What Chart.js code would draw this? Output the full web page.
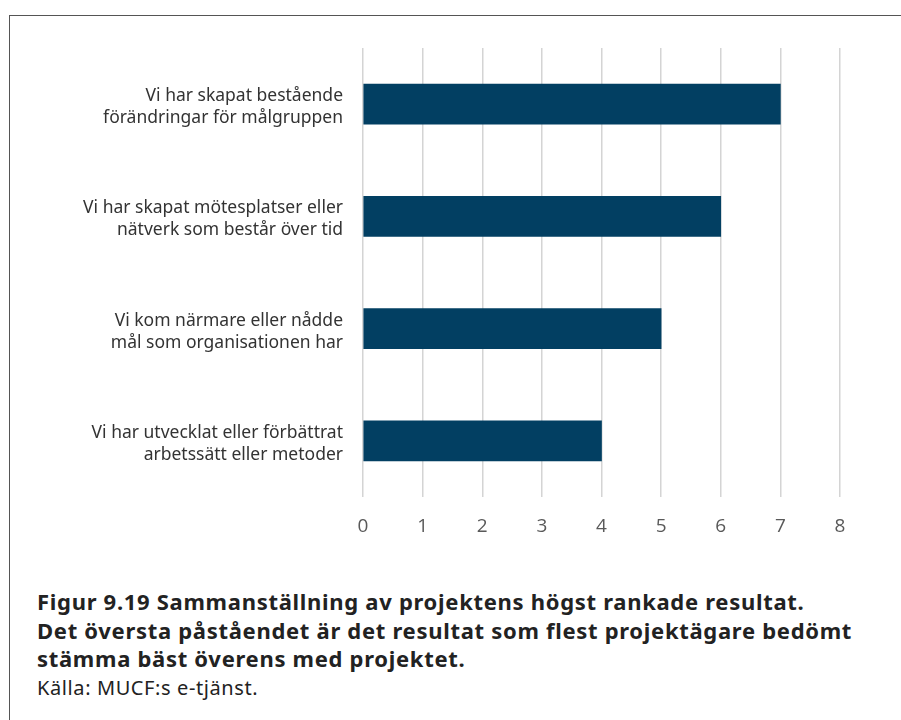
<!DOCTYPE html>
<html lang="sv">
<head>
    <meta charset="UTF-8">
    <title>Figur 9.19</title>
    <script src="https://cdn.jsdelivr.net/npm/chart.js"></script>
    <style>
        body { margin: 0; background: #fff; font-family: "Noto Sans", "Open Sans", sans-serif; }
        #frame { position: absolute; left: 9px; top: 15px; width: 1000px; height: 800px;
                 border-left: 1.5px solid #555; border-top: 1.5px solid #555; }
        #wrap { position: absolute; left: 0; top: 0; width: 901px; height: 570px; }
        #caption { position: absolute; left: 37px; top: 587px; color: #222; }
        #caption h2 { margin: 0; font-size: 22px; line-height: 28.5px; font-weight: 700; letter-spacing: 0.7px; }
        #caption p { margin: 2px 0 0 0; font-size: 20px; line-height: 26px; letter-spacing: 0.6px; }
    </style>
</head>
<body>
    <div id="frame"></div>
    <div id="wrap"><canvas id="chart"></canvas></div>
    <div id="caption">
        <h2>Figur 9.19 Sammanställning av projektens högst rankade resultat.<br>
        Det översta påståendet är det resultat som flest projektägare bedömt<br>
        stämma bäst överens med projektet.</h2>
        <p>Källa: MUCF:s e-tjänst.</p>
    </div>

    <script>
        const labels = [
            ['Vi har skapat bestående', 'förändringar för målgruppen'],
            ['Vi har skapat mötesplatser eller', 'nätverk som består över tid'],
            ['Vi kom närmare eller nådde', 'mål som organisationen har'],
            ['Vi har utvecklat eller förbättrat', 'arbetssätt eller metoder']
        ];
        const values = [7, 6, 5, 4];
        const xMax = 8;

        new Chart(document.getElementById('chart'), {
            type: 'bar',
            data: {
                labels: labels,
                datasets: [{
                    data: values,
                    backgroundColor: '#023f62',
                    barThickness: 40
                }]
            },
            options: {
                indexAxis: 'y',
                responsive: true,
                maintainAspectRatio: false,
                animation: false,
                layout: { padding: { top: 48, right: 61, left: 0, bottom: 0 } },
                plugins: { legend: { display: false }, tooltip: { enabled: false } },
                scales: {
                    x: {
                        min: 0,
                        max: xMax,
                        ticks: { stepSize: 1, color: '#595959', padding: 18,
                                 font: { family: '"Open Sans", "Noto Sans", sans-serif', size: 19 } },
                        grid: { color: '#d4d4d4', lineWidth: 1.5, drawTicks: false },
                        border: { display: false },
                        afterFit: function (scale) { scale.height = 73; }
                    },
                    y: {
                        ticks: { color: '#333', padding: 20, labelOffset: 3,
                                 font: { family: '"Noto Sans", "Open Sans", sans-serif', size: 17.5, lineHeight: 1.25 } },
                        grid: { display: false, drawTicks: false },
                        border: { display: false },
                        afterFit: function (scale) { scale.width = 363; }
                    }
                }
            }
        });
    </script>
</body>
</html>
